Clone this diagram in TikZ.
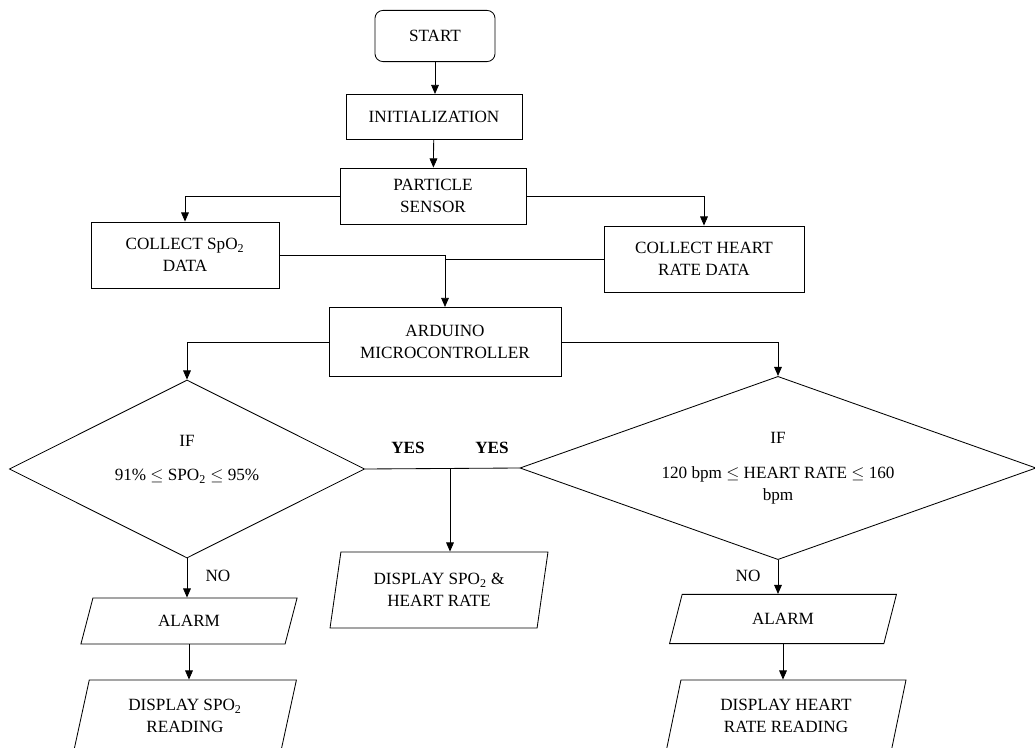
\documentclass[tikz,border=0pt]{standalone}
\usepackage{fontspec}
\setmainfont{Liberation Serif}
\usetikzlibrary{shapes.geometric,arrows.meta}

\tikzset{
	caja/.style={draw, line width=0.6pt, align=center, inner sep=2pt},
	inicio/.style={caja, rounded corners=0.2cm},
	rombo/.style={draw, line width=0.6pt, diamond, aspect=2.8, inner sep=0pt, align=center},
	datos/.style={draw, line width=0.6pt, trapezium, trapezium left angle=76,
		trapezium right angle=104, trapezium stretches=true, inner sep=2pt, align=center},
	flecha/.style={line width=0.6pt, -{Triangle[length=6.5pt,width=5.5pt]}},
	linea/.style={line width=0.6pt},
	etiq/.style={inner sep=1pt}
}

\begin{document}
\begin{tikzpicture}[x=0.025cm, y=-0.025cm, font=\fontsize{12.2}{15.6}\selectfont]
	\useasboundingbox (0,0) rectangle (1035,748);
	\clip (0,0) rectangle (1035,748);

	\node[inicio, minimum width=3cm, minimum height=1.28cm] (start) at (435,36) {START};
	\node[caja, minimum width=4.4cm, minimum height=1.13cm] (init) at (434,117) {INITIALIZATION};
	\node[caja, minimum width=4.65cm, minimum height=1.4cm] (sensor) at (433,196) {PARTICLE\\SENSOR};
	\node[caja, minimum width=4.7cm, minimum height=1.65cm] (spo2) at (185,255) {COLLECT SpO\textsubscript{2}\\DATA};
	\node[caja, minimum width=5cm, minimum height=1.65cm] (heart) at (704,259) {COLLECT HEART\\RATE DATA};
	\node[caja, minimum width=5.8cm, minimum height=1.73cm] (ard) at (445,342) {ARDUINO\\MICROCONTROLLER};

	% rombos de decision
	\node[rombo, minimum width=8.88cm, minimum height=4.45cm] (d1) at (187,469)
		{IF\\[9pt]91\% $\leq$ SPO\textsubscript{2} $\leq$ 95\%\\{}};
	\node[rombo, minimum width=12.9cm, minimum height=4.58cm] (d2) at (778,468)
		{IF\\[9pt]120 bpm $\leq$ HEART RATE $\leq$ 160\\bpm};

	\node[datos, trapezium left angle=79, trapezium right angle=101,
		minimum width=5.45cm, minimum height=1.9cm] (disp) at (439,590) {DISPLAY SPO\textsubscript{2} \&\\HEART RATE};
	\node[datos, minimum width=5.43cm, minimum height=1.15cm] (al1) at (189,621) {ALARM};
	\node[datos, minimum width=5.7cm, minimum height=1.23cm] (al2) at (783,619) {ALARM};
	\node[datos, minimum width=5.6cm, minimum height=1.8cm] (dp1) at (185,716) {DISPLAY SPO\textsubscript{2}\\READING};
	\node[datos, minimum width=6cm, minimum height=1.8cm] (dp2) at (786,716) {DISPLAY HEART\\RATE READING};

	\node[etiq, font=\fontsize{12.2}{15.6}\selectfont\bfseries] (yes1) at (408,448) {YES};
	\node[etiq, font=\fontsize{12.2}{15.6}\selectfont\bfseries] (yes2) at (492,448) {YES};
	\node[etiq] (no1) at (218,576) {NO};
	\node[etiq] (no2) at (748,576) {NO};

	\coordinate (jn) at (445,255);

	\draw[flecha] (start.south) -- (start.south |- init.north);
	\draw[flecha] (init) -- (sensor);
	\draw[flecha] (sensor.west) -| (spo2.north);
	\draw[flecha] (sensor.east) -| (heart.north);
	\draw[linea] (spo2.east) -- (jn); % union de los datos
	\draw[linea] (heart.west) -- (heart.west -| jn) -- (jn);
	\draw[flecha] (jn) -- (ard);
	\draw[flecha] (ard.west) -| (d1.north);
	\draw[flecha] (ard.east) -| (d2.north);
	\draw[linea] (d1.east) -- coordinate[pos=0.55] (yj) (d2.west);
	\draw[flecha] (yj) -- (yj |- disp.north);
	\draw[flecha] (d1.south) -- (d1.south |- al1.north);
	\draw[flecha] (al1.south) -- (al1.south |- dp1.north);
	\draw[flecha] (d2.south) -- (d2.south |- al2.north);
	\draw[flecha] (al2.south) -- (al2.south |- dp2.north);
\end{tikzpicture}
\end{document}
